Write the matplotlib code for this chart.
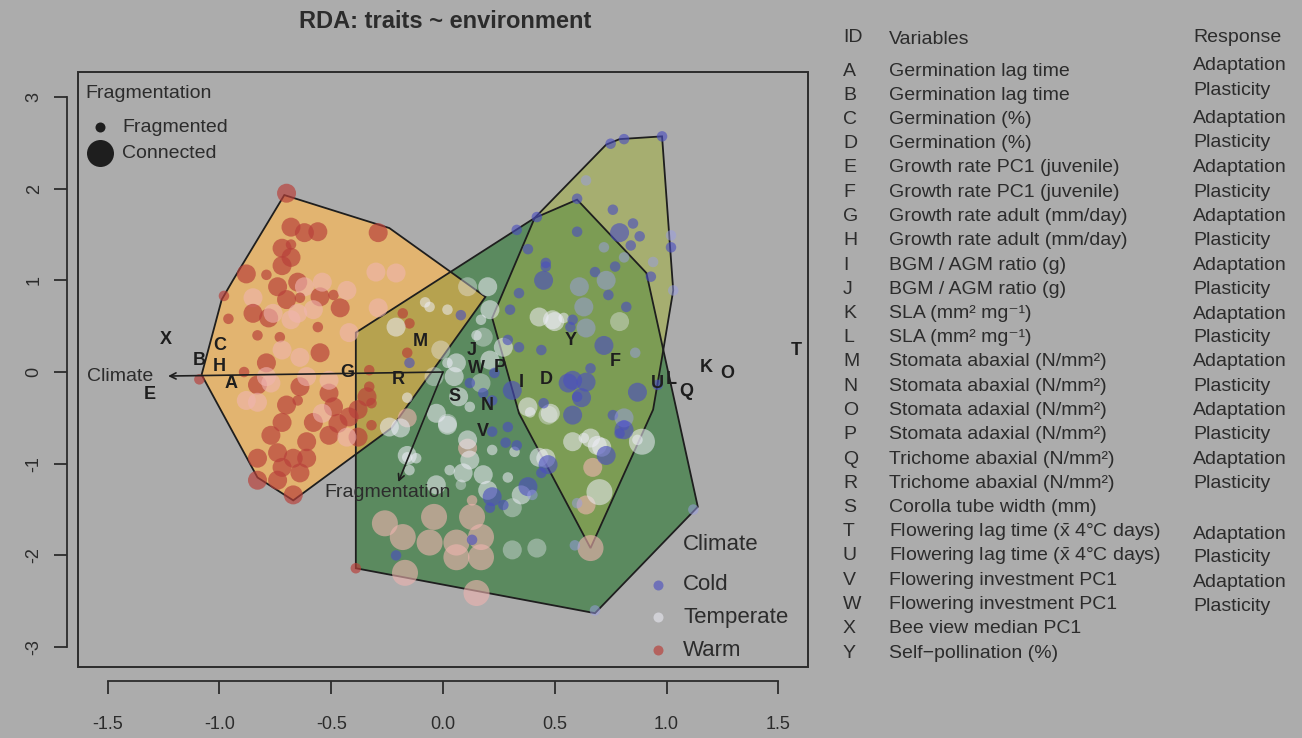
import matplotlib
matplotlib.use('Agg')
import matplotlib.pyplot as plt
from matplotlib.patches import Polygon, Rectangle
from matplotlib.colors import to_rgba

# ---------------- data ----------------
# points: (RDA1, RDA2, connectivity level 0=fragmented 1=connected 2=connected-large, faint)
warm_points = [
    (-0.70, 1.95, 1, 0), (-0.68, 1.58, 1, 0), (-0.62, 1.52, 1, 0), (-0.56, 1.53, 1, 0),
    (-0.29, 1.52, 1, 0), (-0.72, 1.35, 1, 0), (-0.68, 1.39, 0, 0), (-0.68, 1.25, 1, 0),
    (-0.72, 1.16, 1, 0), (-0.88, 1.07, 1, 0), (-0.79, 1.06, 0, 0), (-0.74, 0.93, 1, 0),
    (-0.65, 0.98, 1, 0), (-0.62, 0.93, 1, 1), (-0.98, 0.83, 0, 0), (-0.85, 0.81, 1, 1),
    (-0.70, 0.79, 1, 0), (-0.64, 0.81, 0, 0), (-0.55, 0.82, 1, 0), (-0.49, 0.84, 0, 0),
    (-0.46, 0.70, 1, 0), (-0.85, 0.64, 1, 0), (-0.78, 0.59, 1, 0), (-0.68, 0.57, 1, 1),
    (-0.96, 0.58, 0, 0), (-0.83, 0.40, 0, 0), (-0.73, 0.38, 0, 0), (-0.56, 0.49, 0, 0),
    (-0.29, 0.70, 1, 1), (-0.30, 1.09, 1, 1), (-0.21, 1.08, 1, 1), (-0.54, 0.98, 1, 1),
    (-0.43, 0.89, 1, 1), (-0.18, 0.64, 0, 0), (-0.15, 0.53, 0, 0), (-0.42, 0.43, 1, 1),
    (-1.09, -0.08, 0, 0), (-0.89, 0.00, 0, 0), (-0.79, 0.10, 1, 0), (-0.72, 0.24, 1, 1),
    (-0.64, 0.16, 1, 1), (-0.55, 0.21, 1, 0), (-0.83, -0.14, 1, 0), (-0.83, -0.33, 1, 1),
    (-0.65, -0.31, 0, 0), (-0.70, -0.36, 1, 0), (-0.64, -0.16, 1, 0), (-0.51, -0.23, 1, 0),
    (-0.49, -0.38, 1, 0), (-0.38, -0.41, 1, 0), (-0.33, -0.16, 0, 0), (-0.34, -0.27, 1, 0),
    (-0.32, -0.34, 0, 0), (-0.72, -0.55, 1, 0), (-0.58, -0.55, 1, 0), (-0.47, -0.56, 1, 0),
    (-0.42, -0.49, 1, 0), (-0.77, -0.69, 1, 0), (-0.61, -0.76, 1, 0), (-0.51, -0.69, 1, 0),
    (-0.38, -0.71, 1, 0), (-0.32, -0.58, 0, 0), (-0.83, -0.94, 1, 0), (-0.74, -0.88, 1, 0),
    (-0.67, -0.94, 1, 0), (-0.72, -1.04, 1, 0), (-0.61, -0.94, 1, 0), (-0.83, -1.18, 1, 0),
    (-0.74, -1.18, 1, 0), (-0.64, -1.10, 1, 0), (-0.67, -1.34, 1, 0), (-0.79, -0.05, 1, 1),
    (-0.16, 0.21, 0, 0), (-0.33, 0.02, 0, 0), (-0.39, -2.14, 0, 0), (-0.16, -0.50, 1, 1),
    (0.11, -0.83, 1, 1), (0.13, -1.40, 0, 1), (0.13, -1.58, 2, 1), (-0.04, -1.58, 2, 1),
    (-0.26, -1.65, 2, 1), (-0.18, -1.80, 2, 1), (-0.06, -1.86, 2, 1), (0.06, -1.86, 2, 1),
    (0.17, -1.80, 2, 1), (0.06, -2.02, 2, 1), (0.17, -2.02, 2, 1), (-0.17, -2.19, 2, 1),
    (0.15, -2.41, 2, 1), (0.66, -1.92, 2, 1), (0.64, -1.45, 1, 1), (0.67, -1.04, 1, 1),
    (-0.88, -0.31, 1, 1), (-0.77, -0.12, 1, 1), (-0.61, -0.05, 1, 1), (-0.51, -0.09, 1, 1),
    (-0.54, -0.45, 1, 1), (-0.43, -0.71, 1, 1), (-0.76, 0.64, 1, 1), (-0.65, 0.64, 1, 1),
    (-0.58, 0.68, 1, 1),
]
temperate_points = [
    (-0.21, 0.49, 1, 0), (-0.24, -0.60, 1, 0), (-0.19, -0.61, 1, 0), (-0.16, -0.28, 0, 0),
    (-0.15, -1.07, 0, 0), (-0.16, -0.91, 1, 0), (-0.08, 0.76, 0, 0), (0.02, 0.68, 0, 0),
    (0.17, 0.57, 0, 0), (0.11, 0.93, 1, 1), (0.20, 0.93, 1, 0), (0.21, 0.68, 1, 0),
    (0.15, 0.40, 0, 0), (0.18, 0.38, 1, 1), (0.06, 0.10, 1, 0), (0.05, -0.05, 1, 0),
    (0.17, -0.12, 1, 1), (0.21, 0.13, 1, 0), (0.27, 0.27, 1, 0), (0.43, 0.60, 1, 0),
    (0.49, 0.57, 1, 0), (0.54, 0.59, 0, 0), (0.38, -0.38, 1, 0), (0.48, -0.45, 1, 0),
    (0.07, -0.27, 1, 0), (0.12, -0.38, 0, 0), (-0.03, -0.45, 1, 0), (0.02, -0.56, 1, 1),
    (-0.01, 0.24, 1, 1), (0.02, 0.10, 0, 0), (-0.04, -0.05, 1, 1), (-0.06, 0.71, 0, 0),
    (0.02, -0.58, 1, 0), (0.11, -0.74, 1, 0), (0.12, -0.96, 1, 0), (0.22, -0.85, 0, 0),
    (0.32, -0.87, 0, 0), (0.43, -0.93, 1, 0), (-0.16, -0.93, 0, 0), (-0.12, -0.94, 0, 0),
    (0.03, -1.07, 0, 0), (0.09, -1.10, 1, 0), (0.18, -1.12, 1, 0), (0.29, -1.15, 0, 0),
    (-0.03, -1.23, 1, 0), (0.08, -1.23, 0, 1), (0.20, -1.29, 1, 0), (0.31, -1.48, 1, 1),
    (0.35, -1.34, 1, 0), (0.31, -1.94, 1, 1), (0.42, -1.92, 1, 1), (0.70, -1.31, 2, 0),
    (0.69, -0.80, 1, 0), (0.58, -0.76, 1, 0), (0.63, -0.72, 0, 0), (0.87, -0.74, 0, 0),
    (0.50, 0.55, 1, 0), (0.79, 0.55, 1, 1), (0.39, -0.44, 0, 0), (0.47, -0.47, 1, 1),
    (0.89, -0.76, 2, 0), (0.66, -0.72, 1, 0), (0.71, -0.82, 1, 0), (0.46, -0.94, 1, 0),
]
cold_points = [
    (-0.15, 0.10, 0, 0), (0.08, 0.62, 0, 0), (0.12, -0.12, 0, 0), (0.23, -0.01, 0, 0),
    (0.29, 0.35, 0, 0), (0.30, 0.68, 0, 0), (0.34, 0.27, 0, 0), (0.34, 0.86, 0, 0),
    (0.45, 1.00, 1, 0), (0.46, 1.15, 0, 0), (0.44, 0.24, 0, 0), (0.58, 0.57, 0, 0),
    (0.57, 0.49, 0, 0), (0.31, -0.20, 1, 0), (0.45, -0.34, 0, 0), (0.56, -0.12, 1, 0),
    (0.60, -0.27, 0, 0), (0.18, -0.23, 0, 0), (0.22, -0.31, 0, 0), (0.29, -0.60, 0, 0),
    (0.22, -0.65, 0, 0), (0.33, -0.80, 0, 0), (0.28, -0.77, 0, 0), (0.47, -1.01, 1, 0),
    (0.44, -1.10, 0, 0), (0.38, -1.25, 1, 0), (0.40, -1.34, 0, 1), (0.22, -1.36, 1, 0),
    (0.21, -1.48, 0, 0), (0.27, -1.45, 0, 0), (0.13, -1.83, 0, 0), (-0.21, -2.00, 0, 0),
    (0.59, -1.89, 0, 1), (0.68, -2.60, 0, 1), (0.60, -1.43, 0, 1), (0.79, -0.67, 0, 0),
    (0.81, -0.58, 0, 0), (0.75, 2.49, 0, 0), (0.81, 2.54, 0, 0), (0.98, 2.57, 0, 0),
    (0.64, 2.09, 0, 1), (0.60, 1.89, 0, 0), (0.42, 1.69, 0, 0), (0.33, 1.55, 0, 0),
    (0.76, 1.77, 0, 0), (0.85, 1.62, 0, 0), (0.79, 1.52, 1, 0), (0.88, 1.48, 0, 0),
    (0.84, 1.38, 0, 0), (1.02, 1.49, 0, 1), (1.02, 1.36, 0, 0), (0.60, 1.53, 0, 0),
    (0.38, 1.34, 0, 0), (0.46, 1.19, 0, 0), (0.68, 1.09, 0, 0), (0.77, 1.15, 0, 0),
    (0.81, 1.25, 0, 1), (0.94, 1.20, 0, 1), (0.93, 1.04, 0, 0), (0.73, 1.00, 1, 1),
    (0.61, 0.93, 1, 1), (0.72, 1.36, 0, 1), (1.03, 0.89, 0, 1), (0.64, 0.48, 1, 1),
    (0.63, 0.71, 1, 1), (0.74, 0.84, 0, 0), (0.82, 0.71, 0, 0), (0.72, 0.29, 1, 0),
    (0.86, 0.21, 0, 1), (0.58, -0.09, 1, 0), (0.64, -0.11, 1, 0), (0.66, 0.04, 0, 0),
    (0.87, -0.22, 1, 0), (0.96, -0.14, 0, 0), (0.62, -0.28, 1, 0), (0.58, -0.47, 1, 0),
    (0.76, -0.47, 0, 0), (0.81, -0.50, 1, 1), (0.81, -0.63, 1, 0), (0.73, -0.91, 1, 0),
    (1.12, -1.50, 0, 1),
]

# convex hulls of the three groups
hull_orange = [(-0.71, 1.93), (-0.24, 1.57), (0.19, 0.82), (-0.23, -0.61), (-0.67, -1.40),
               (-0.83, -1.15), (-1.08, -0.03), (-0.99, 0.79), (-0.94, 1.00)]
hull_green = [(-0.39, 0.43), (0.41, 1.68), (0.60, 1.88), (0.91, 1.08), (1.14, -1.47),
              (0.68, -2.63), (-0.39, -2.14)]
hull_olive = [(0.22, 0.59), (0.41, 1.68), (0.73, 2.48), (0.79, 2.54), (0.98, 2.57),
              (1.03, 0.89), (0.98, 0.16), (0.94, -0.41), (0.66, -1.92), (0.34, -0.45)]

# biplot arrows (environment)
env_names = ['Climate', 'Fragmentation']
env_end = [(-1.23, -0.044), (-0.20, -1.20)]
env_label = [(-1.445, -0.044), (-0.25, -1.31)]

# trait scores (letters)
trait_ids = ['X', 'C', 'B', 'H', 'E', 'A', 'G', 'R', 'M', 'J', 'W', 'P', 'I', 'D',
             'S', 'N', 'V', 'Y', 'F', 'U', 'L', 'Q', 'K', 'O', 'T']
trait_x = [-1.24, -1.00, -1.09, -1.00, -1.31, -0.95, -0.43, -0.20, -0.10, 0.13, 0.15, 0.255,
           0.35, 0.46, 0.05, 0.20, 0.18, 0.57, 0.77, 0.96, 1.02, 1.09, 1.18, 1.27, 1.58]
trait_y = [0.36, 0.29, 0.13, 0.065, -0.24, -0.13, -0.01, -0.08, 0.33, 0.24, 0.04, 0.05,
           -0.11, -0.08, -0.27, -0.36, -0.65, 0.34, 0.12, -0.12, -0.08, -0.21, 0.05, -0.02, 0.24]

# table
table_ids = list('ABCDEFGHIJKLMNOPQRSTUVWXY')
table_vars = [
    'Germination lag time', 'Germination lag time', 'Germination (%)', 'Germination (%)',
    'Growth rate PC1 (juvenile)', 'Growth rate PC1 (juvenile)',
    'Growth rate adult (mm/day)', 'Growth rate adult (mm/day)',
    'BGM / AGM ratio (g)', 'BGM / AGM ratio (g)',
    'SLA (mm\u00b2 mg\u207b\u00b9)', 'SLA (mm\u00b2 mg\u207b\u00b9)',
    'Stomata abaxial (N/mm\u00b2)', 'Stomata abaxial (N/mm\u00b2)',
    'Stomata adaxial (N/mm\u00b2)', 'Stomata adaxial (N/mm\u00b2)',
    'Trichome abaxial (N/mm\u00b2)', 'Trichome abaxial (N/mm\u00b2)',
    'Corolla tube width (mm)',
    'Flowering lag time ($\\mathrm{\\bar{x}}$ 4\u00b0C days)',
    'Flowering lag time ($\\mathrm{\\bar{x}}$ 4\u00b0C days)',
    'Flowering investment PC1', 'Flowering investment PC1',
    'Bee view median PC1', 'Self\u2212pollination (%)',
]
table_resp = ['Adaptation', 'Plasticity'] * 9 + [''] + ['Adaptation', 'Plasticity'] * 2 + ['', '']

climate_levels = ['Cold', 'Temperate', 'Warm']
frag_levels = ['Fragmented', 'Connected']

# ---------------- style ----------------
W, H = 1302, 738
BG = '#ACACAC'
TXT = '#2C2C2C'
plt.rcParams['font.family'] = ['Liberation Sans', 'DejaVu Sans']
plt.rcParams['mathtext.fontset'] = 'custom'
plt.rcParams['mathtext.rm'] = 'Liberation Sans'
plt.rcParams['mathtext.it'] = 'Liberation Sans:italic'
plt.rcParams['axes.unicode_minus'] = False

fig = plt.figure(figsize=(W / 100, H / 100), dpi=100)
fig.patch.set_facecolor(BG)


def fx(px):
    return px / W


def fy(py):
    return 1 - py / H


ax = fig.add_axes([fx(78), fy(667), (808 - 78) / W, (667 - 72) / H])
ax.set_facecolor(BG)
ax.set_xlim(-1.633, 1.633)
ax.set_ylim(-3.217, 3.272)

# R-style detached axes
for s in ['top', 'right']:
    ax.spines[s].set_visible(False)
ax.spines['bottom'].set_position(('outward', 10))
ax.spines['left'].set_position(('outward', 8))
ax.spines['bottom'].set_bounds(-1.5, 1.5)
ax.spines['left'].set_bounds(-3, 3)
for s in ['bottom', 'left']:
    ax.spines[s].set_color(TXT)
    ax.spines[s].set_linewidth(1.3)
ax.set_xticks([-1.5, -1.0, -0.5, 0.0, 0.5, 1.0, 1.5])
ax.set_xticklabels(['-1.5', '-1.0', '-0.5', '0.0', '0.5', '1.0', '1.5'])
ax.set_yticks([-3, -2, -1, 0, 1, 2, 3])
ax.set_yticklabels(['-3', '-2', '-1', '0', '1', '2', '3'])
ax.tick_params(direction='out', length=9.4, width=1.3, color=TXT, labelcolor=TXT, labelsize=13)
ax.tick_params(axis='x', pad=16)
ax.tick_params(axis='y', pad=8, labelrotation=90)
for t in ax.get_yticklabels():
    t.set_va('center')
ax.add_patch(Rectangle((0, 0), 1, 1, transform=ax.transAxes, fill=False,
                       edgecolor=TXT, lw=1.4, clip_on=False, zorder=10))

# hull fills
C_GREEN = '#5B8A5F'
C_ORANGE = '#E2B470'
C_OLIVE = '#A6AE70'
C_OLIVE_GREEN = '#7C9C54'
C_ORANGE_GREEN = '#B6A24F'

pg = Polygon(hull_green, closed=True, facecolor=C_GREEN, edgecolor='none', zorder=1)
ax.add_patch(pg)
ax.add_patch(Polygon(hull_orange, closed=True, facecolor=C_ORANGE, edgecolor='none', zorder=1))
ax.add_patch(Polygon(hull_olive, closed=True, facecolor=C_OLIVE, edgecolor='none', zorder=1))
ov1 = Polygon(hull_orange, closed=True, facecolor=C_ORANGE_GREEN, edgecolor='none', zorder=1.2)
ax.add_patch(ov1)
ov1.set_clip_path(pg)
ov2 = Polygon(hull_olive, closed=True, facecolor=C_OLIVE_GREEN, edgecolor='none', zorder=1.2)
ax.add_patch(ov2)
ov2.set_clip_path(pg)
for hull in (hull_green, hull_orange, hull_olive):
    ax.add_patch(Polygon(hull, closed=True, fill=False, edgecolor='#1E1E1E', lw=1.3, zorder=2))

# points
base_col = {'Cold': ('#4A4EC0', 0.62), 'Temperate': ('#EEEEF8', 0.55), 'Warm': ('#B8403A', 0.68)}
faint_col = {'Cold': ('#9A9EE6', 0.5), 'Temperate': ('#EEEEF8', 0.38), 'Warm': ('#F0B4B0', 0.6)}
diam_px = {0: 10.5, 1: 19, 2: 26}

for name, pts in (('Warm', warm_points), ('Temperate', temperate_points), ('Cold', cold_points)):
    xs = [p[0] for p in pts]
    ys = [p[1] for p in pts]
    sizes = [(diam_px[p[2]] * 0.72) ** 2 for p in pts]
    cols = []
    for p in pts:
        c, a = (faint_col if p[3] else base_col)[name]
        cols.append(to_rgba(c, a))
    ax.scatter(xs, ys, s=sizes, c=cols, linewidths=0, zorder=3)

# environment arrows
for nm, (ex, ey), (lx, ly) in zip(env_names, env_end, env_label):
    ax.annotate('', xy=(ex, ey), xytext=(0, 0),
                arrowprops=dict(arrowstyle='->', color='#1E1E1E', lw=1.2,
                                shrinkA=0, shrinkB=0, mutation_scale=11), zorder=4)
    ax.text(lx, ly, nm, ha='center', va='center', fontsize=14, color=TXT, zorder=5)

# trait letters
for t, x, y in zip(trait_ids, trait_x, trait_y):
    ax.text(x, y, t, ha='center', va='center', fontsize=13, fontweight='bold',
            color='#1E1E1E', zorder=5)

# title
fig.text(fx(445), fy(22), 'RDA: traits ~ environment', ha='center', va='center',
         fontsize=17, fontweight='bold', color=TXT)

# fragmentation legend (top-left)
fig.text(fx(85), fy(94), 'Fragmentation', ha='left', va='center', fontsize=14, color=TXT)
for lab, py, d in zip(frag_levels, [127, 153], [10, 27]):
    ax.plot([fx(100)], [fy(py)], marker='o', markersize=d * 0.72, color='#1E1E1E',
            markeredgewidth=0, transform=fig.transFigure, clip_on=False, zorder=6)
    fig.text(fx(122), fy(py), lab, ha='left', va='center', fontsize=14, color=TXT)

# climate legend (bottom-right)
fig.text(fx(683), fy(544), 'Climate', ha='left', va='center', fontsize=16, color=TXT)
for lab, py in zip(climate_levels, [585, 617, 650]):
    c, a = base_col[lab]
    ax.plot([fx(658)], [fy(py)], marker='o', markersize=10 * 0.72, color=to_rgba(c, a),
            markeredgewidth=0, transform=fig.transFigure, clip_on=False, zorder=6)
    fig.text(fx(683), fy(py), lab, ha='left', va='center', fontsize=16, color=TXT)

# table on the right
fig.text(fx(843), fy(38), 'ID', ha='left', va='center', fontsize=14, color=TXT)
fig.text(fx(889), fy(40), 'Variables', ha='left', va='center', fontsize=14, color=TXT)
fig.text(fx(1193), fy(38), 'Response', ha='left', va='center', fontsize=14, color=TXT)
resp_nudge = {'A': -6, 'B': -5, 'C': -1, 'D': -1, 'K': 1, 'T': 3, 'U': 2, 'V': 2, 'W': 2}
for i, (tid, var, resp) in enumerate(zip(table_ids, table_vars, table_resp)):
    py = 71 + i * 24.25
    fig.text(fx(843), fy(py), tid, ha='left', va='center', fontsize=14, color=TXT)
    fig.text(fx(889), fy(py), var, ha='left', va='center', fontsize=14, color=TXT)
    if resp:
        fig.text(fx(1193), fy(py + resp_nudge.get(tid, 0)), resp, ha='left', va='center',
                 fontsize=14, color=TXT)

fig.savefig('out.png', dpi=100, facecolor=BG)
